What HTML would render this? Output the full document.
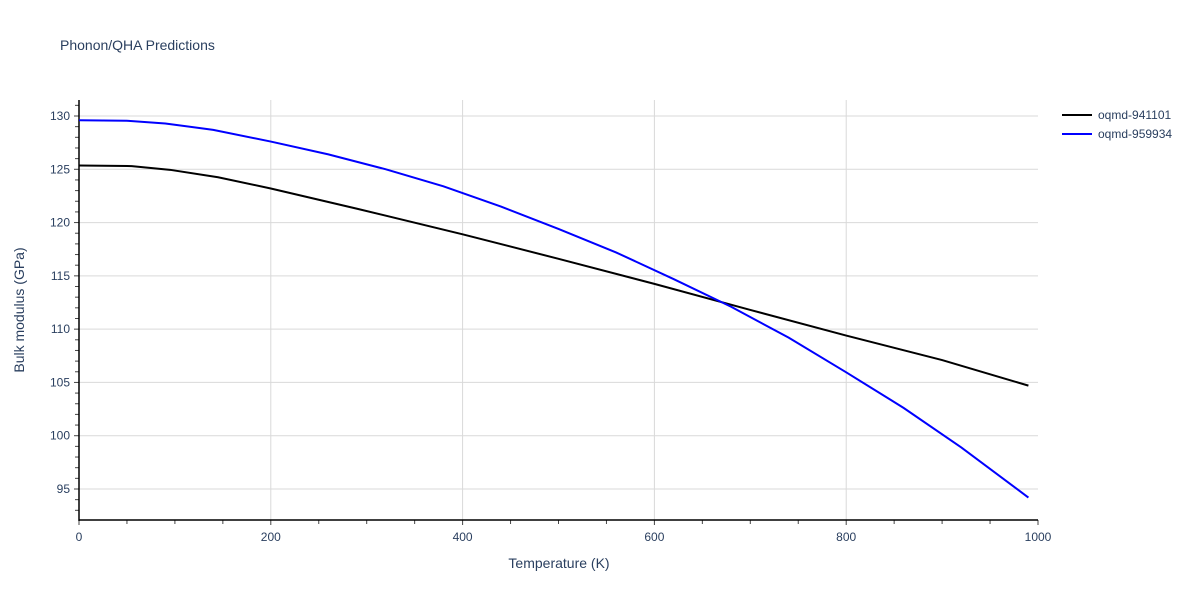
<!DOCTYPE html>
<html><head><meta charset="utf-8"><style>
body{margin:0;background:#fff;font-family:"Liberation Sans",sans-serif;}
svg text{font-family:"Liberation Sans",sans-serif;fill:#2a3f5f;}
</style></head><body>
<svg width="1200" height="600">
<text x="60" y="50" font-size="14">Phonon/QHA Predictions</text>
<g id="grid"></g>
<g id="axes"></g>
<g id="series"></g>
<text x="559" y="568" font-size="14" text-anchor="middle">Temperature (K)</text>
<text transform="translate(24,310) rotate(-90)" font-size="14" text-anchor="middle">Bulk modulus (GPa)</text>
<g>
<g><line x1="1062" y1="115" x2="1092" y2="115" stroke="#000" stroke-width="2"/><text x="1098" y="119" font-size="12">oqmd-941101</text></g>
<g><line x1="1062" y1="134" x2="1092" y2="134" stroke="#00f" stroke-width="2"/><text x="1098" y="138" font-size="12">oqmd-959934</text></g>
</g>
</svg>
<script>
const xTicks=[0,200,400,600,800,1000];
const yTicks=[95,100,105,110,115,120,125,130];
const blackT=[0,55,95,145,200,290,400,500,600,700,800,900,990];
const blackB=[125.35,125.3,124.95,124.25,123.2,121.3,118.9,116.6,114.25,111.8,109.4,107.1,104.7];
const blueT=[0,50,90,140,200,260,320,380,440,500,560,620,680,740,800,860,920,990];
const blueB=[129.6,129.55,129.3,128.7,127.6,126.4,125.0,123.4,121.5,119.4,117.2,114.7,112.1,109.2,105.95,102.6,98.9,94.2];
const X0=79,X1=1038,Y0=520,YT=100;
const sx=v=>X0+(v/1000)*(X1-X0);
const sy=v=>116+(130-v)*(489-116)/35;
const NS="http://www.w3.org/2000/svg";
function mk(tag,attrs,parent){const e=document.createElementNS(NS,tag);for(const k in attrs)e.setAttribute(k,attrs[k]);parent.appendChild(e);return e;}
const grid=document.getElementById('grid'),axes=document.getElementById('axes'),ser=document.getElementById('series');
xTicks.forEach(t=>{const x=sx(t);
 if(t>0&&t<1000){const g=mk('line',{x1:x,x2:x,y1:YT,y2:Y0,stroke:'#d9d9d9'},grid);
 
 }
 const l=mk('text',{x:x,y:541,'font-size':12,'text-anchor':'middle'},axes);l.textContent=t;
 
 
});
for(let t=0;t<=1000;t+=50){const x=sx(t);mk('line',{x1:x,x2:x,y1:Y0,y2:Y0+(t%200==0?5:4),stroke:'#444'},axes);}
yTicks.forEach(t=>{const y=sy(t);
 const g=mk('line',{x1:X0,x2:X1,y1:y,y2:y,stroke:'#d9d9d9'},grid);
 
 
 const l=mk('text',{x:70,y:y+4,'font-size':12,'text-anchor':'end'},axes);l.textContent=t;
 
 
});
for(let t=93;t<=131;t++){const y=sy(t);if(y>Y0||y<YT)continue;mk('line',{x1:X0,x2:X0-(t%5==0?5:4),y1:y,y2:y,stroke:'#444'},axes);}
mk('line',{x1:X0,x2:X0,y1:YT,y2:Y0+1,stroke:'#000','stroke-width':1.5},axes);
mk('line',{x1:X0,x2:X1,y1:Y0,y2:Y0,stroke:'#000','stroke-width':1.5},axes);
function line(T,B,c,name){const p=mk('polyline',{points:T.map((t,i)=>sx(t)+','+sy(B[i])).join(' '),fill:'none',stroke:c,'stroke-width':2},ser);
 
 }
line(blackT,blackB,'#000','line-oqmd-941101');
line(blueT,blueB,'#00f','line-oqmd-959934');
</script>
</body></html>
